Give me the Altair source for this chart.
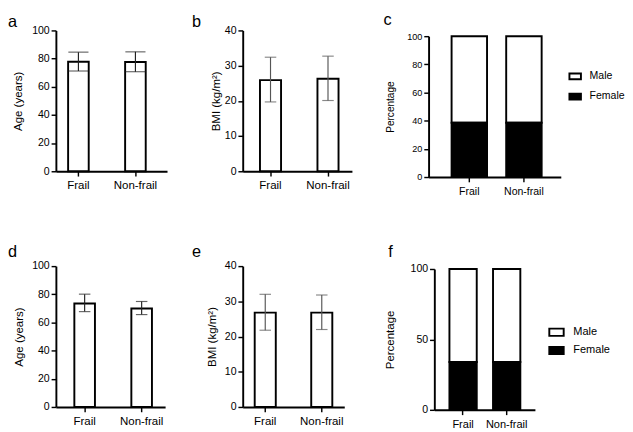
import altair as alt
import pandas as pd

FONT = "Liberation Sans"

groups = ["Frail", "Non-frail"]
sexes = ["Male", "Female"]

# panel a
age1_mean = [77.8, 77.6]
age1_lo = [71.2, 70.7]
age1_hi = [84.6, 84.8]
# panel b
bmi1_mean = [25.9, 26.3]
bmi1_lo = [19.7, 20.1]
bmi1_hi = [32.4, 32.7]
# panel c
male1 = [61.5, 61.5]
female1 = [38.5, 38.5]
# panel d
age2_mean = [73.5, 69.9]
age2_lo = [67.7, 65.6]
age2_hi = [80.1, 74.9]
# panel e
bmi2_mean = [26.8, 26.8]
bmi2_lo = [21.8, 22.0]
bmi2_hi = [32.0, 31.8]
# panel f
male2 = [66.0, 66.0]
female2 = [34.0, 34.0]


def band(W, c0, c1, bw):
    s = c1 - c0
    pi = 1 - bw / s
    offset = c0 - bw / 2
    left = W - (s + bw)
    po = left / (2 * s)
    al = offset / left
    return alt.Scale(paddingInner=pi, paddingOuter=po, align=al)


def xaxis(W, xfs, ext):
    kw = dict(labelAngle=0, labelFontSize=xfs, labelPadding=4)
    if ext > 0:
        # invisible spacer that widens the panel's bounds to the right
        kw.update(title=".", titleOpacity=0, titleFontSize=8, titleX=W + ext,
                  titleY=0, titleAlign="right", titleBaseline="bottom")
    else:
        kw.update(title=None)
    return alt.Axis(**kw)


def ptitle(letter, dx, dy):
    return alt.TitleParams(letter, anchor="start", frame="group", dx=dx, dy=dy, fontSize=17,
                           fontWeight="normal", font=FONT, color="black",
                           baseline="alphabetic", offset=0)


def mean_panel(letter, mean, lo, hi, ytitle, ymax, ystep, W, H, c0, c1, bw, cap,
               dx, dy, tpad, ecolor, ext=0, lfs=11, xfs=12, tfs=12):
    df = pd.DataFrame({"group": groups, "mean": mean, "lo": lo, "hi": hi})
    xenc = alt.X("group:N", sort=groups, scale=band(W, c0, c1, bw), axis=xaxis(W, xfs, ext))
    yscale = alt.Scale(domain=[0, ymax], nice=False)
    yaxis = alt.Axis(title=ytitle, values=list(range(0, ymax + 1, ystep)),
                     labelFontSize=lfs, titleFontSize=tfs, titlePadding=tpad)
    base = alt.Chart(df)
    bars = base.mark_bar(fill="white", stroke="black", strokeWidth=2).encode(
        x=xenc, y=alt.Y("mean:Q", scale=yscale, axis=yaxis))
    rule = base.mark_rule(color=ecolor, strokeWidth=1.2).encode(
        x=xenc, y=alt.Y("lo:Q", scale=yscale, axis=yaxis), y2="hi:Q")
    caplo = base.mark_tick(color=ecolor, thickness=1.2, size=cap).encode(
        x=xenc, y=alt.Y("lo:Q", scale=yscale, axis=yaxis))
    caphi = base.mark_tick(color=ecolor, thickness=1.2, size=cap).encode(
        x=xenc, y=alt.Y("hi:Q", scale=yscale, axis=yaxis))
    return alt.layer(bars, rule, caplo, caphi).properties(
        width=W, height=H, title=ptitle(letter, dx, dy))


def pct_panel(letter, male, female, W, H, rng, c0, c1, bw, yvals, dx, dy, tpad,
              lx, ly, symsize, rowpad, loff, lfs, xfs, tfs, legfs):
    df = pd.DataFrame({
        "group": groups * 2,
        "sex": ["Male"] * 2 + ["Female"] * 2,
        "pct": list(male) + list(female),
        "ord": [2, 2, 1, 1],
    })
    xenc = alt.X("group:N", sort=groups, scale=band(W, c0, c1, bw), axis=xaxis(W, xfs, 0))
    bars = alt.Chart(df).mark_bar(stroke="black", strokeWidth=2).encode(
        x=xenc,
        y=alt.Y("pct:Q", stack="zero",
                scale=alt.Scale(domain=[0, 100], nice=False, range=rng),
                axis=alt.Axis(title="Percentage", values=yvals, labelFontSize=lfs,
                              titleFontSize=tfs, titlePadding=tpad)),
        fill=alt.Fill("sex:N", scale=alt.Scale(domain=sexes, range=["white", "black"]),
                      legend=alt.Legend(title=None, orient="none", legendX=lx, legendY=ly,
                                        symbolType="M-1,-0.5H1V0.5H-1Z", symbolSize=symsize,
                                        symbolStrokeColor="black", symbolStrokeWidth=2,
                                        labelFontSize=legfs, labelFont=FONT, labelColor="black",
                                        rowPadding=rowpad, labelOffset=loff)),
        order=alt.Order("ord:Q"),
    )
    return bars.properties(width=W, height=H, title=ptitle(letter, dx, dy))


COLSP = 19
a = mean_panel("a", age1_mean, age1_lo, age1_hi, "Age (years)", 100, 20,
               116, 147, 23.5, 83, 21.5, 21, -50, 19, 8, "#222")
b = mean_panel("b", bmi1_mean, bmi1_lo, bmi1_hi, "BMI (kg/m²)", 40, 10,
               114, 147, 29, 89, 22, 12, -53, 19, 2, "#555", ext=5)
c = pct_panel("c", male1, female1, 138, 153, [153, 6], 42.5, 99.5, 37,
              [0, 20, 40, 60, 80, 100], -47, 11, 12, 146, 41, 144, 7, 8, 9.5, 11, 10.5, 11)
d = mean_panel("d", age2_mean, age2_lo, age2_hi, "Age (years)", 100, 20,
               114, 147, 30, 89.5, 21.5, 12, -50, 13, 6, "#222", ext=9)
e = mean_panel("e", bmi2_mean, bmi2_lo, bmi2_hi, "BMI (kg/m²)", 40, 10,
               106, 147, 23.5, 82.5, 22, 12, -53, 13, 6, "#555", ext=22)
f = pct_panel("f", male2, female2, 105, 150, [150, 3], 30, 75.5, 28.5,
              [0, 50, 100], -48, 10, 14.5, 119, 60.5, 225, 2, 9, 11, 11.5, 12, 11.5)

chart = alt.concat(a, b, c, d, e, f, columns=3, align="none",
                   spacing={"row": 49, "column": COLSP}).resolve_scale(
    fill="independent", x="independent", y="independent"
).resolve_legend(fill="independent").properties(
    padding={"left": 0, "top": -6, "right": 0, "bottom": 0}, background="white"
).configure_view(strokeWidth=0, stroke="transparent").configure_axis(
    grid=False, domainColor="black", domainWidth=2, tickColor="black", tickWidth=1.5,
    tickSize=5, labelColor="black", titleColor="black", labelFont=FONT, titleFont=FONT,
    titleFontWeight="normal", labelPadding=2
)

chart.save("out.html", embed_options={"renderer": "svg", "actions": False})
